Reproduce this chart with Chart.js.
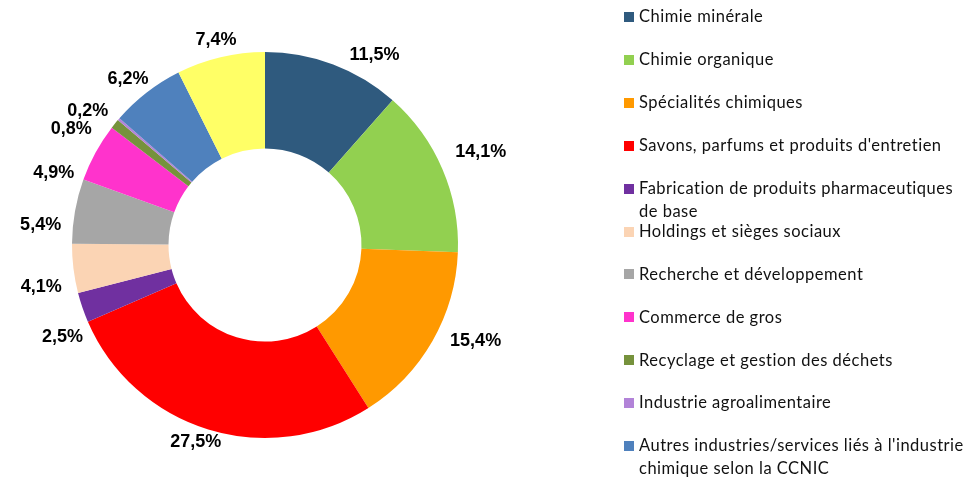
<!DOCTYPE html>
<html>
<head>
<meta charset="utf-8">
<script src="https://cdn.jsdelivr.net/npm/chart.js@4.4.1/dist/chart.umd.min.js"></script>
<style>
  html, body { margin: 0; padding: 0; background: #fff; }
  canvas { display: block; }
</style>
</head>
<body>
<canvas id="chart" width="963" height="477"></canvas>
<script>
// categories (the yellow slice has no legend entry in the source)
const categories = [
  'Chimie minérale',
  'Chimie organique',
  'Spécialités chimiques',
  "Savons, parfums et produits d'entretien",
  'Fabrication de produits pharmaceutiques\nde base',
  'Holdings et sièges sociaux',
  'Recherche et développement',
  'Commerce de gros',
  'Recyclage et gestion des déchets',
  'Industrie agroalimentaire',
  "Autres industries/services liés à l'industrie\nchimique selon la CCNIC",
  ''
];
const shares = [11.5, 14.1, 15.4, 27.5, 2.5, 4.1, 5.4, 4.9, 0.8, 0.2, 6.2, 7.4];
const colors = [
  '#2F5A7E', '#92D050', '#FF9900', '#FF0000', '#7030A0', '#FBD4B4',
  '#A6A6A6', '#FF33CC', '#76923C', '#B283D8', '#4F81BD', '#FFFF66'
];

// small hand tweaks so the percentage labels sit where the original has them
const labelNudges = [
  [33, 12], [8, -4], [15, -16], [-6, -9], [7, 20], [-5, 15],
  [-7, 19], [-17, 34], [-22, 23], [-10, 10], [-3, 7], [0, 2]
];

const fmt = v => v.toFixed(1).replace('.', ',') + '%';

const outsideLabels = {
  id: 'outsideLabels',
  afterDatasetsDraw(chart) {
    const ctx = chart.ctx;
    const arcs = chart.getDatasetMeta(0).data;
    ctx.save();
    ctx.font = 'bold 18px "Liberation Sans", Arial, sans-serif';
    ctx.fillStyle = '#000';
    ctx.textAlign = 'center';
    ctx.textBaseline = 'middle';
    arcs.forEach((arc, i) => {
      const mid = (arc.startAngle + arc.endAngle) / 2;
      const text = fmt(shares[i]);
      const hw = ctx.measureText(text).width / 2;
      const hh = 9;
      const cx = Math.cos(mid), sy = Math.sin(mid);
      const d = arc.outerRadius + 6 + Math.abs(cx) * hw + Math.abs(sy) * hh;
      const n = labelNudges[i] || [0, 0];
      ctx.fillText(text, arc.x + cx * d + n[0], arc.y + sy * d + n[1]);
    });
    ctx.restore();
  }
};

const sideLegend = {
  id: 'sideLegend',
  afterDraw(chart) {
    const ctx = chart.ctx;
    const left = 624, top = 17, step = 42.9, box = 10, lineH = 23;
    ctx.save();
    ctx.font = '16.5px Lato, "Liberation Sans", sans-serif';
    ctx.letterSpacing = '0.5px';
    ctx.textBaseline = 'middle';
    let row = 0;
    categories.forEach((label, i) => {
      if (!label) return;
      const y = top + row * step;
      ctx.fillStyle = colors[i];
      ctx.fillRect(left, Math.round(y - box / 2), box, box);
      ctx.fillStyle = '#111';
      label.split('\n').forEach((line, k) => {
        ctx.fillText(line, left + 15, y + k * lineH);
      });
      row++;
    });
    ctx.restore();
  }
};

new Chart(document.getElementById('chart'), {
  type: 'doughnut',
  data: {
    labels: categories,
    datasets: [{
      data: shares,
      backgroundColor: colors,
      borderWidth: 0
    }]
  },
  options: {
    responsive: false,
    animation: false,
    cutout: '50%',
    layout: { padding: { left: 72, top: 52, right: 505, bottom: 39 } },
    plugins: {
      legend: { display: false },
      tooltip: { enabled: false }
    }
  },
  plugins: [outsideLabels, sideLegend]
});
</script>
</body>
</html>
